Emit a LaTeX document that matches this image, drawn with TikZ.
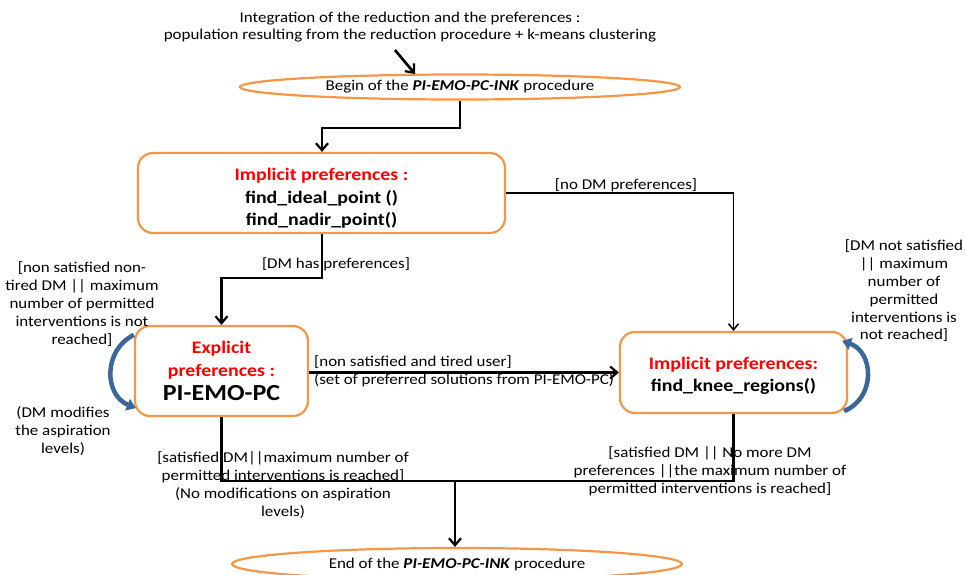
\documentclass[tikz,border=0pt]{standalone}
\usepackage{fontspec}
\setmainfont[FakeStretch=1.13]{Carlito}
\usetikzlibrary{shapes.geometric,arrows.meta,calc}
\definecolor{orng}{HTML}{F79646}
\definecolor{blu}{HTML}{3C679A}
\definecolor{redt}{HTML}{FF0000}
\begin{document}
\begin{tikzpicture}[x=1pt,y=-1pt,
  lbl/.style={font=\fontsize{15}{17.8}\selectfont, align=center, inner sep=0pt},
  boxtxt/.style={font=\fontsize{17.6}{22.5}\selectfont\bfseries, align=center},
  box/.style={draw=orng, line width=2.2pt, rounded corners=15pt, fill=white, inner sep=0pt},
  oval/.style={ellipse, draw=orng, line width=2.2pt, fill=white, inner sep=0pt, font=\fontsize{15}{17}\selectfont},
  arr/.style={line width=2.7pt, -{Straight Barb[length=7pt,width=12pt,line width=2.2pt]}},
  arrthin/.style={line width=1.5pt, -{Straight Barb[length=6pt,width=10pt,line width=1.5pt]}},
  seg/.style={line width=2.7pt},
  loop/.style={blu, line width=4.5pt, -{Triangle[length=9pt,width=12pt]}}
]
\useasboundingbox (0,0) rectangle (966,575);

% texts at top
\node[lbl] (intro) at (410,27) {Integration of the reduction and the preferences :\\ population resulting from the reduction procedure + k-means clustering};

% ovals
\node[oval, minimum width=440pt, minimum height=25pt] (begin) at (460,87) {Begin of the \textbf{\textit{PI-EMO-PC-INK}} procedure};
\node[oval, minimum width=450pt, minimum height=32pt] (end) at (457,564) {End of the \textbf{\textit{PI-EMO-PC-INK}} procedure};

% boxes
\node[box, minimum width=367pt, minimum height=80pt, boxtxt] (imp1) at (321.5,193)
  {\rule{0pt}{23pt}\textcolor{redt}{Implicit preferences :}\\ find\_ideal\_point ()\\ find\_nadir\_point()};
\node[box, minimum width=173pt, minimum height=90pt, boxtxt] (exp) at (221.5,371)
  {\textcolor{redt}{Explicit}\\ \textcolor{redt}{preferences :}\\[2pt] {\fontsize{23}{24}\selectfont PI-EMO-PC}};
\node[box, minimum width=227pt, minimum height=81pt, boxtxt] (knee) at (733.5,372.5)
  {\rule{0pt}{19pt}\textcolor{redt}{Implicit preferences:}\\ find\_knee\_regions()};

% coordinates
\coordinate (a0) at (395,50);
\coordinate (a1) at (415,74);
\coordinate (j1) at (322,128);
\coordinate (j2) at (221.5,278);
\coordinate (j3) at (455,481);

% connectors
\draw[arr] (a0) -- (a1);
\draw[arr] (begin.south) -- (begin.south |- j1) -| (imp1.north -| j1);
\draw[arr] (imp1.south -| j1) |- (j2) -- (exp.north);
\draw[arrthin] (imp1.east) -| (knee.north);
\draw[arr] (exp.east |- knee.west) -- (knee.west);
\draw[seg] (exp.south) |- (j3);
\draw[seg] (knee.south) |- (j3);
\draw[arr] (j3) -- (end.north -| j3);

% self loops
\draw[loop] ($(exp.north west)+(0,10)$) .. controls (103,350) and (104,395) .. ($(exp.south west)+(2,-9)$);
\draw[loop] ($(knee.south east)+(-4,-3)$) .. controls (876,398) and (874,352) .. ($(knee.north east)+(-6,10)$);

% labels
\node[lbl] (l1) at (626,185) {[no DM preferences]};
\node[lbl] (l2) at (336,264) {[DM has preferences]};
\node[lbl] (l3) at (82,304) {[non satisfied non-\\tired DM || maximum\\number of permitted\\interventions is not\\reached]};
\node[lbl] (l4) at (63,431) {(DM modifies\\the aspiration\\levels)};
\node[lbl] (l5) at (904,291) {[DM not satisfied\\|| maximum\\number of\\permitted\\interventions is\\not reached]};
\node[lbl, anchor=west] (l6) at (314,362) {[non satisfied and tired user]};
\node[lbl, anchor=west] (l7) at (314,380) {(set of preferred solutions from PI-EMO-PC)};
\node[lbl] (l8) at (283,485) {[satisfied DM||maximum number of\\permitted interventions is reached]\\(No modifications on aspiration\\levels)};
\node[lbl] (l9) at (710,471) {[satisfied DM || No more DM\\preferences ||the maximum number of\\permitted interventions is reached]};
\end{tikzpicture}
\end{document}
